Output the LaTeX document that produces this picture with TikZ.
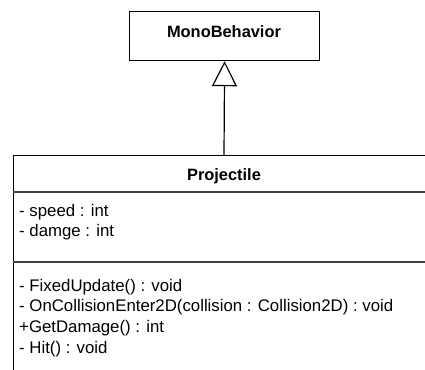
\documentclass[tikz,border=0pt]{standalone}
\usepackage{fontspec}
\setmainfont{Liberation Sans}
\usetikzlibrary{arrows.meta}
\begin{document}
\begin{tikzpicture}[x=1pt,y=-1pt,
  box/.style={draw=black,line width=1.2pt,fill=white},
  sep/.style={draw=black!75,line width=1.2pt},
  txt/.style={font=\fontsize{16.8}{18}\selectfont,inner sep=0pt,anchor=west},
  ttl/.style={font=\fontsize{16.4}{18}\selectfont\bfseries,inner sep=0pt},
  inh/.style={-{Triangle[open,length=25pt,width=25pt]},line width=1.2pt}]
\useasboundingbox (0,0) rectangle (425,369);
\node[box,minimum width=190pt,minimum height=49pt,anchor=north west] (mono) at (129,11) {};
\node[ttl] (monot) at (224,32) {MonoBehavior};
\node[box,minimum width=440pt,minimum height=240pt,anchor=north west] (proj) at (13,155) {};
\coordinate (ptop) at (224,155);
\draw[inh] (ptop) -- (mono.south);
\node[ttl] (projt) at (224,176) {Projectile};
\draw[sep] (13,192) -- (440,192);
\draw[sep] (13,262) -- (440,262);
\node[txt] (a1) at (19,212) {- speed : int};
\node[txt] (a2) at (19,232) {- damge : int};
\node[txt] (m1) at (19,287) {- FixedUpdate() : void};
\node[txt] (m2) at (19,307) {- OnCollisionEnter2D(collision : Collision2D) : void};
\node[txt] (m3) at (19,328) {+GetDamage() : int};
\node[txt] (m4) at (19,349) {- Hit() : void};
\end{tikzpicture}
\end{document}
